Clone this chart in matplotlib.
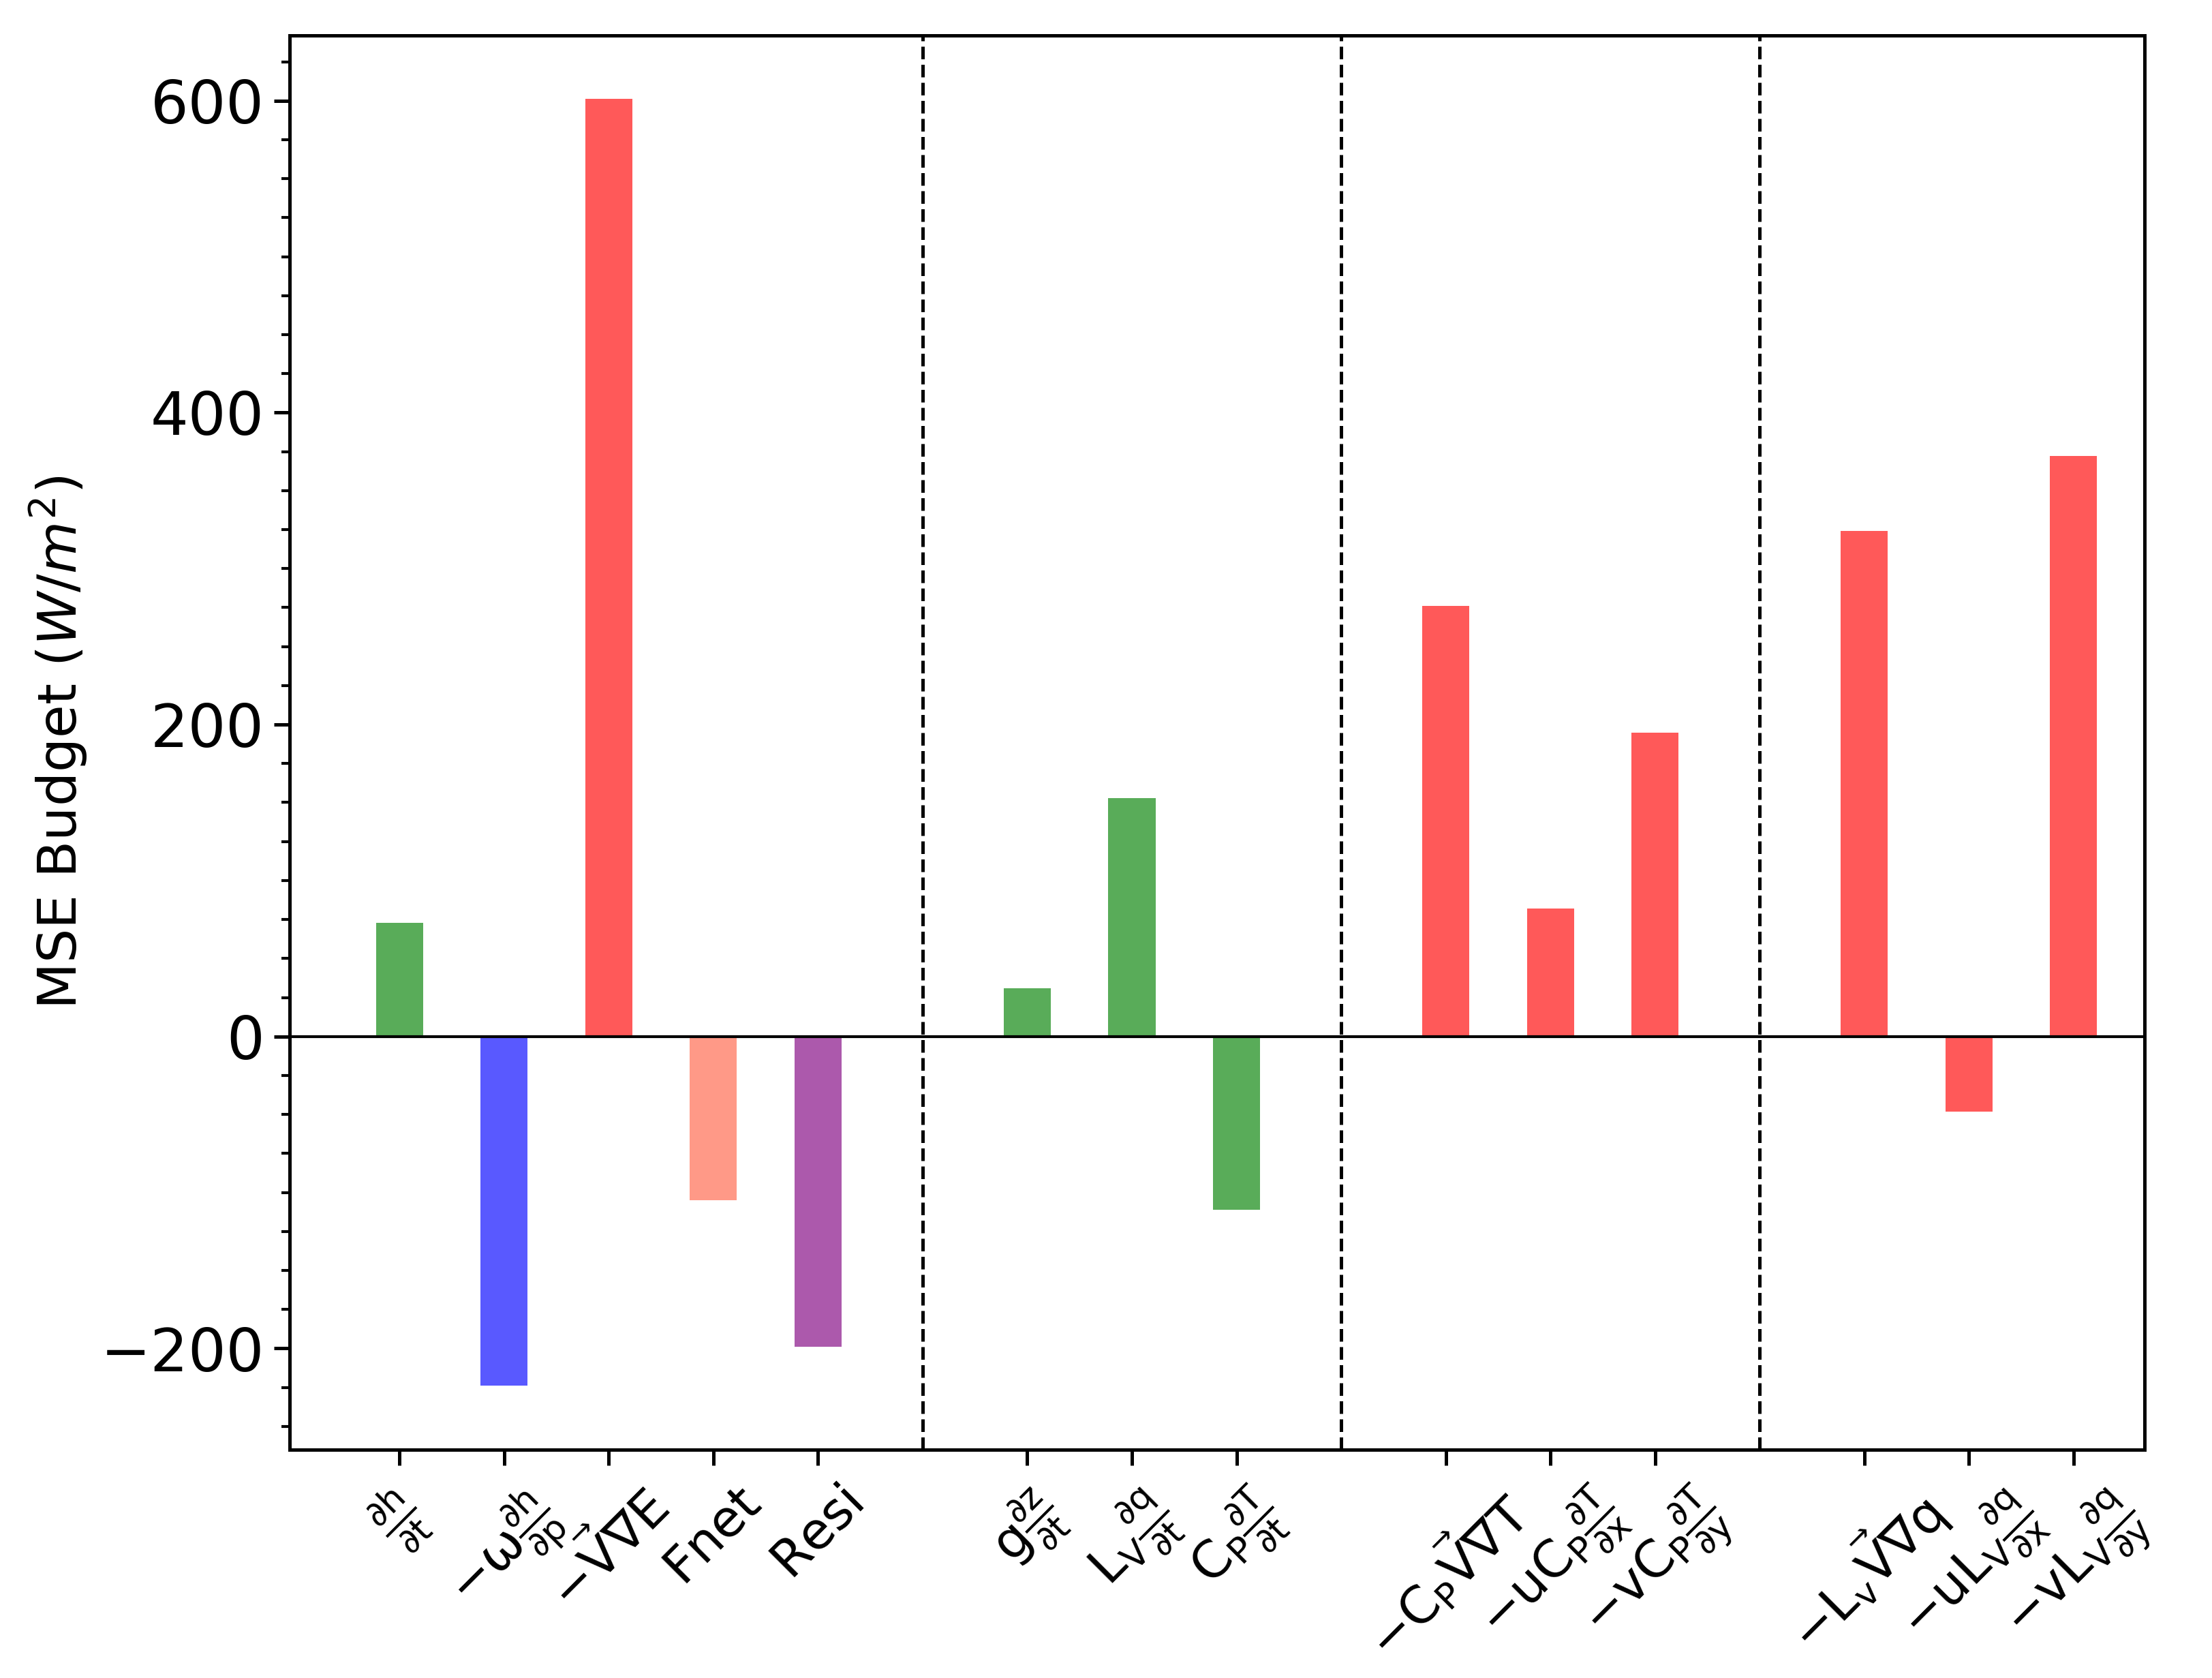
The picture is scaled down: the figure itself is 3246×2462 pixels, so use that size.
import matplotlib
matplotlib.use("Agg")
import matplotlib.pyplot as plt
from matplotlib.ticker import MultipleLocator

labels = [r'$\mathregular{\frac{\partial h}{\partial t}}$', r'$\mathregular{-\omega\frac{\partial h}{\partial p}}$',
          r'$\mathregular{-\vec{V}\nabla E}$', r'$\mathregular{Fnet}$', r'$\mathregular{Resi}$',
          r'$\mathregular{g\frac{\partial z}{\partial t}}$', r'$\mathregular{L_V\frac{\partial q}{\partial t}}$',
          r'$\mathregular{C_P\frac{\partial T}{\partial t}}$',
          r'$\mathregular{-C_P\vec{V}\nabla T}$', r'$\mathregular{-uC_P\frac{\partial T}{\partial x}}$',
          r'$\mathregular{-vC_P\frac{\partial T}{\partial y}}$',
          r'$\mathregular{-L_v\vec{V}\nabla q}$', r'$\mathregular{-uL_V\frac{\partial q}{\partial x}}$',
          r'$\mathregular{-vL_V\frac{\partial q}{\partial y}}$']
positions = [0, 1, 2, 3, 4, 6, 7, 8, 10, 11, 12, 14, 15, 16]
values = [73, -224, 601, -105, -199, 31, 153, -111, 276, 82, 195, 324, -48, 372]
colors = ['green', 'blue', 'red', 'tomato', 'purple', 'green', 'green', 'green',
          'red', 'red', 'red', 'red', 'red', 'red']
dividers = [5, 9, 13]

fig = plt.figure(figsize=(10.82, 8.207), dpi=300)
ax = fig.add_axes([0.131, 0.136, 0.8385, 0.843])

ax.bar(positions, values, width=0.45, color=colors, alpha=0.65)
ax.axhline(0, color='black', linewidth=1.0)
for d in dividers:
    ax.axvline(d, color='black', linestyle='--', linewidth=1.2)

ax.set_xlim(-1.05, 16.68)
ax.set_ylim(-265, 642)
ax.set_xticks(positions)
ax.set_xticklabels(labels, rotation=45, fontsize=18)
ax.yaxis.set_major_locator(MultipleLocator(200))
ax.yaxis.set_minor_locator(MultipleLocator(25))
ax.tick_params(axis='y', labelsize=21, length=5.5, width=1.2)
ax.tick_params(axis='x', length=5.5, width=1.2, pad=5)
ax.tick_params(axis='y', which='minor', length=3, width=1.0)
ax.set_ylabel(r'MSE Budget ($W/m^2$)', fontsize=19)
for s in ax.spines.values():
    s.set_linewidth(1.2)

fig.savefig('out.png', dpi=300)
